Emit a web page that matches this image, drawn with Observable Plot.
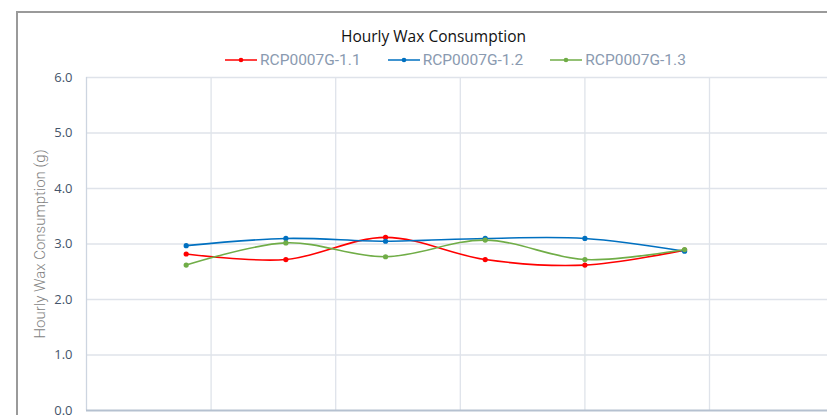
<!DOCTYPE html>
<html>
<head>
<meta charset="utf-8">
<script src="https://cdn.jsdelivr.net/npm/d3@7"></script>
<script src="https://cdn.jsdelivr.net/npm/@observablehq/plot@0.6"></script>
<style>
  html, body { margin: 0; padding: 0; background: #fff; overflow: hidden; }
  #wrap { position: relative; width: 827px; height: 415px; overflow: hidden; }
  #frame { position: absolute; left: 16px; top: 11px; width: 900px; height: 500px; border: 2px solid #9a9a9a; box-sizing: border-box; pointer-events: none; }
  #title { position: absolute; left: 0; width: 867px; top: 25px; text-align: center; font-family: "Open Sans", sans-serif; font-size: 15.5px; color: #111; }
  #legend { position: absolute; left: 225px; top: 51px; display: flex; gap: 27px; font-family: Roboto, sans-serif; font-size: 15.5px; color: #8a9ab0; }
  .item { display: flex; align-items: center; gap: 3px; }
  #chart { position: absolute; left: 0; top: 0; }
</style>
</head>
<body>
<div id="wrap">
  <div id="chart"></div>
  <div id="frame"></div>
  <div id="title"></div>
  <div id="legend"></div>
</div>
<script>
const title = "Hourly Wax Consumption";
const yLabel = "Hourly Wax Consumption (g)";
const seriesNames = ["RCP0007G-1.1", "RCP0007G-1.2", "RCP0007G-1.3"];
const seriesColors = ["#ff0000", "#0070c0", "#70ad47"];
const xValues = [0.8, 1.6, 2.4, 3.2, 4.0, 4.8];
const s11 = [2.82, 2.72, 3.12, 2.72, 2.62, 2.89];
const s12 = [2.97, 3.10, 3.05, 3.10, 3.10, 2.87];
const s13 = [2.62, 3.02, 2.77, 3.07, 2.72, 2.90];
const yTicks = [0, 1, 2, 3, 4, 5, 6];
const xGrid = [1, 2, 3, 4, 5];

const allSeries = [s11, s12, s13];
const data = [];
allSeries.forEach((vals, i) => vals.forEach((v, j) => data.push({series: seriesNames[i], x: xValues[j], y: v})));

document.getElementById("title").textContent = title;
const legend = document.getElementById("legend");
seriesNames.forEach((name, i) => {
  const item = document.createElement("div");
  item.className = "item";
  item.innerHTML = `<svg width="32" height="10"><line x1="0" x2="32" y1="5" y2="5" stroke="${seriesColors[i]}" stroke-width="1.5"/><circle cx="16" cy="5" r="2.3" fill="${seriesColors[i]}"/></svg><span>${name}</span>`;
  legend.appendChild(item);
});

const chart = Plot.plot({
  width: 827,
  height: 415,
  marginLeft: 86,
  marginRight: 0,
  marginTop: 77,
  marginBottom: 5,
  x: {domain: [0, 5.947], axis: null},
  y: {domain: [0, 6], label: null},
  color: {domain: seriesNames, range: seriesColors},
  style: {background: "transparent", overflow: "visible"},
  marks: [
    Plot.gridY(yTicks.slice(1), {stroke: "#dfe3ea", strokeOpacity: 1, strokeWidth: 1.3}),
    Plot.gridX(xGrid, {stroke: "#dfe3ea", strokeOpacity: 1, strokeWidth: 1.3}),
    Plot.ruleX([0], {stroke: "#cdd5e0", strokeWidth: 1.3}),
    Plot.ruleY([0], {stroke: "#b5c1d0", strokeWidth: 2}),
    Plot.axisY({ticks: yTicks, tickFormat: d3.format(".1f"), tickSize: 0, tickPadding: 14, fill: "#44546a", fontSize: 13, fontFamily: "Open Sans, sans-serif", label: null}),
    Plot.text([yLabel], {frameAnchor: "left", dx: -46, rotate: -90, textAnchor: "middle", fill: "#7f7f7f", fontSize: 15, fontFamily: "Roboto, sans-serif", fontWeight: 300}),
    Plot.line(data, {x: "x", y: "y", z: "series", stroke: "series", strokeWidth: 1.6, curve: "catmull-rom"}),
    Plot.dot(data, {x: "x", y: "y", fill: "series", r: 2.6})
  ]
});
document.getElementById("chart").appendChild(chart);
</script>
</body>
</html>
